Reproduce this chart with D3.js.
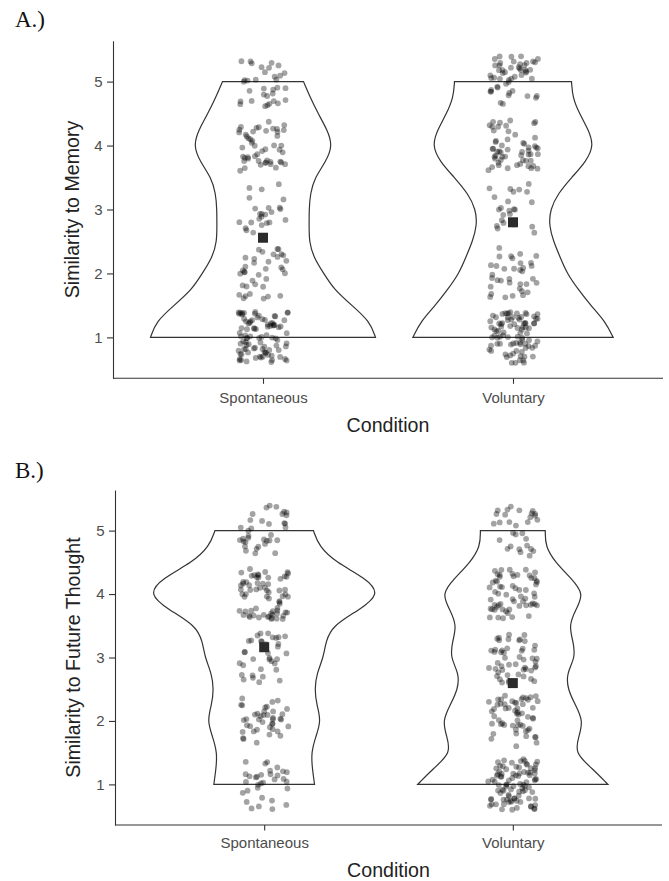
<!DOCTYPE html>
<html>
<head>
<meta charset="utf-8">
<script src="https://cdn.jsdelivr.net/npm/d3@7"></script>
<style>
  body { margin: 0; background: #ffffff; }
  svg { display: block; }
</style>
</head>
<body>
<svg id="chart" width="669" height="881"></svg>
<script>
// ---------------- DATA ----------------
const conditions = ["Spontaneous", "Voluntary"];
const ratingLevels = [1, 2, 3, 4, 5];
const yTickValues = [1, 2, 3, 4, 5];
// heights at which the violin outline (relative density, 1 = widest) was read
const profileY = [1, 1.25, 1.5, 1.75, 2, 2.25, 2.5, 2.75, 3, 3.25, 3.5, 3.75, 4, 4.25, 4.5, 4.75, 5];

// Panel A: Similarity to Memory
const memoryCountsSpontaneous = [90, 36, 24, 48, 33];
const memoryCountsVoluntary   = [85, 35, 25, 55, 50];
const memoryViolinSpontaneous = [1.00, 0.95, 0.79, 0.63, 0.54, 0.45, 0.41, 0.41, 0.41, 0.42, 0.46, 0.56, 0.62, 0.57, 0.49, 0.42, 0.36];
const memoryViolinVoluntary   = [0.89, 0.82, 0.69, 0.58, 0.48, 0.42, 0.36, 0.32, 0.33, 0.40, 0.52, 0.65, 0.72, 0.67, 0.59, 0.53, 0.52];

// Panel B: Similarity to Future Thought
const futureCountsSpontaneous = [32, 40, 35, 68, 35];
const futureCountsVoluntary   = [90, 55, 50, 60, 30];
const futureViolinSpontaneous = [0.45, 0.43, 0.42, 0.46, 0.51, 0.47, 0.45, 0.47, 0.53, 0.55, 0.61, 0.85, 1.04, 0.91, 0.64, 0.49, 0.44];
const futureViolinVoluntary   = [0.85, 0.71, 0.55, 0.59, 0.63, 0.56, 0.49, 0.48, 0.56, 0.54, 0.50, 0.56, 0.64, 0.52, 0.38, 0.29, 0.29];

const panelLabels = ["A.)", "B.)"];
const yTitles = ["Similarity to Memory", "Similarity to Future Thought"];
const xTitle = "Condition";

// ---------------- DRAW ----------------
const svg = d3.select("#chart");
const sans = "'Liberation Sans', Arial, Helvetica, sans-serif";

function drawPanel(cfg) {
  const g = svg.append("g");
  const x = d3.scalePoint().domain(conditions).range([cfg.left, cfg.right]).padding(0.6);
  const y = d3.scaleLinear().domain([0.36, 5.64]).range([cfg.bottom, cfg.top]);
  const step = x.step();
  const w = d3.scaleLinear().domain([0, 1]).range([0, 0.45 * step]);
  const rand = d3.randomLcg(cfg.seed);

  // panel label
  svg.append("text")
    .attr("x", 15).attr("y", cfg.labelY)
    .attr("font-family", "'Liberation Serif', 'Times New Roman', serif")
    .attr("font-size", 23).attr("fill", "#111")
    .text(cfg.label);

  // violins
  cfg.groups.forEach(gr => {
    const cx = x(gr.cond);
    const pts = profileY.map((v, i) => ({ v: v, d: gr.violin[i] }));
    const area = d3.area()
      .curve(d3.curveBasis)
      .y(d => y(d.v))
      .x0(d => cx - w(d.d))
      .x1(d => cx + w(d.d));
    g.append("path")
      .attr("d", area(pts))
      .attr("fill", "#ffffff")
      .attr("stroke", "#333333")
      .attr("stroke-width", 1.2);
  });

  // jittered points
  cfg.groups.forEach(gr => {
    const cx = x(gr.cond);
    const data = [];
    ratingLevels.forEach((lv, i) => {
      for (let j = 0; j < gr.counts[i]; j++) {
        const jx = (rand() * 2 - 1) * 0.1;
        const jy = (rand() * 2 - 1) * 0.4;
        data.push({ x: cx + jx * step, y: y(lv + jy) });
      }
    });
    g.append("g").selectAll("circle").data(data).join("circle")
      .attr("cx", d => d.x).attr("cy", d => d.y)
      .attr("r", 2.9)
      .attr("fill", "#000000")
      .attr("fill-opacity", 0.36);
  });

  // means
  cfg.groups.forEach(gr => {
    const n = d3.sum(gr.counts);
    const m = d3.sum(ratingLevels.map((lv, i) => lv * gr.counts[i])) / n;
    const s = 10;
    g.append("rect")
      .attr("x", x(gr.cond) - s / 2).attr("y", y(m) - s / 2)
      .attr("width", s).attr("height", s)
      .attr("fill", "#2b2b2b");
  });

  // axes
  const yAxis = d3.axisLeft(y).tickValues(yTickValues).tickFormat(d3.format("d"))
    .tickSize(6).tickSizeOuter(0).tickPadding(4.5);
  const ya = g.append("g").attr("transform", `translate(${cfg.left},0)`).call(yAxis);
  const xAxis = d3.axisBottom(x).tickSize(5.5).tickSizeOuter(0).tickPadding(cfg.xPad);
  const xa = g.append("g").attr("transform", `translate(0,${cfg.bottom})`).call(xAxis);
  xa.select(".domain").attr("d", `M${cfg.left},0H${cfg.right}`);

  [ya, xa].forEach(a => {
    a.select(".domain").attr("stroke", "#333").attr("stroke-width", 1.1);
    a.selectAll(".tick line").attr("stroke", "#333").attr("stroke-width", 1.1);
    a.selectAll(".tick text").attr("fill", "#4d4d4d")
      .attr("font-family", sans).attr("font-size", 15);
  });

  // titles
  g.append("text")
    .attr("transform", `translate(${cfg.yTitleX},${(cfg.top + cfg.bottom) / 2}) rotate(-90)`)
    .attr("text-anchor", "middle")
    .attr("font-family", sans).attr("font-size", 19.6).attr("fill", "#222")
    .text(cfg.yTitle);
  g.append("text")
    .attr("x", (cfg.left + cfg.right) / 2).attr("y", cfg.xTitleY)
    .attr("text-anchor", "middle")
    .attr("font-family", sans).attr("font-size", 19.6).attr("fill", "#222")
    .text(xTitle);
}

drawPanel({
  label: panelLabels[0], labelY: 27,
  left: 113, right: 663, top: 40.7, bottom: 378.3,
  yTitle: yTitles[0], yTitleX: 79, xTitleY: 432, xPad: 8.5, seed: 0.137,
  groups: [
    { cond: conditions[0], counts: memoryCountsSpontaneous, violin: memoryViolinSpontaneous },
    { cond: conditions[1], counts: memoryCountsVoluntary, violin: memoryViolinVoluntary }
  ]
});

drawPanel({
  label: panelLabels[1], labelY: 478,
  left: 115, right: 662, top: 490, bottom: 825,
  yTitle: yTitles[1], yTitleX: 80, xTitleY: 876.5, xPad: 7, seed: 0.713,
  groups: [
    { cond: conditions[0], counts: futureCountsSpontaneous, violin: futureViolinSpontaneous },
    { cond: conditions[1], counts: futureCountsVoluntary, violin: futureViolinVoluntary }
  ]
});
</script>
</body>
</html>
